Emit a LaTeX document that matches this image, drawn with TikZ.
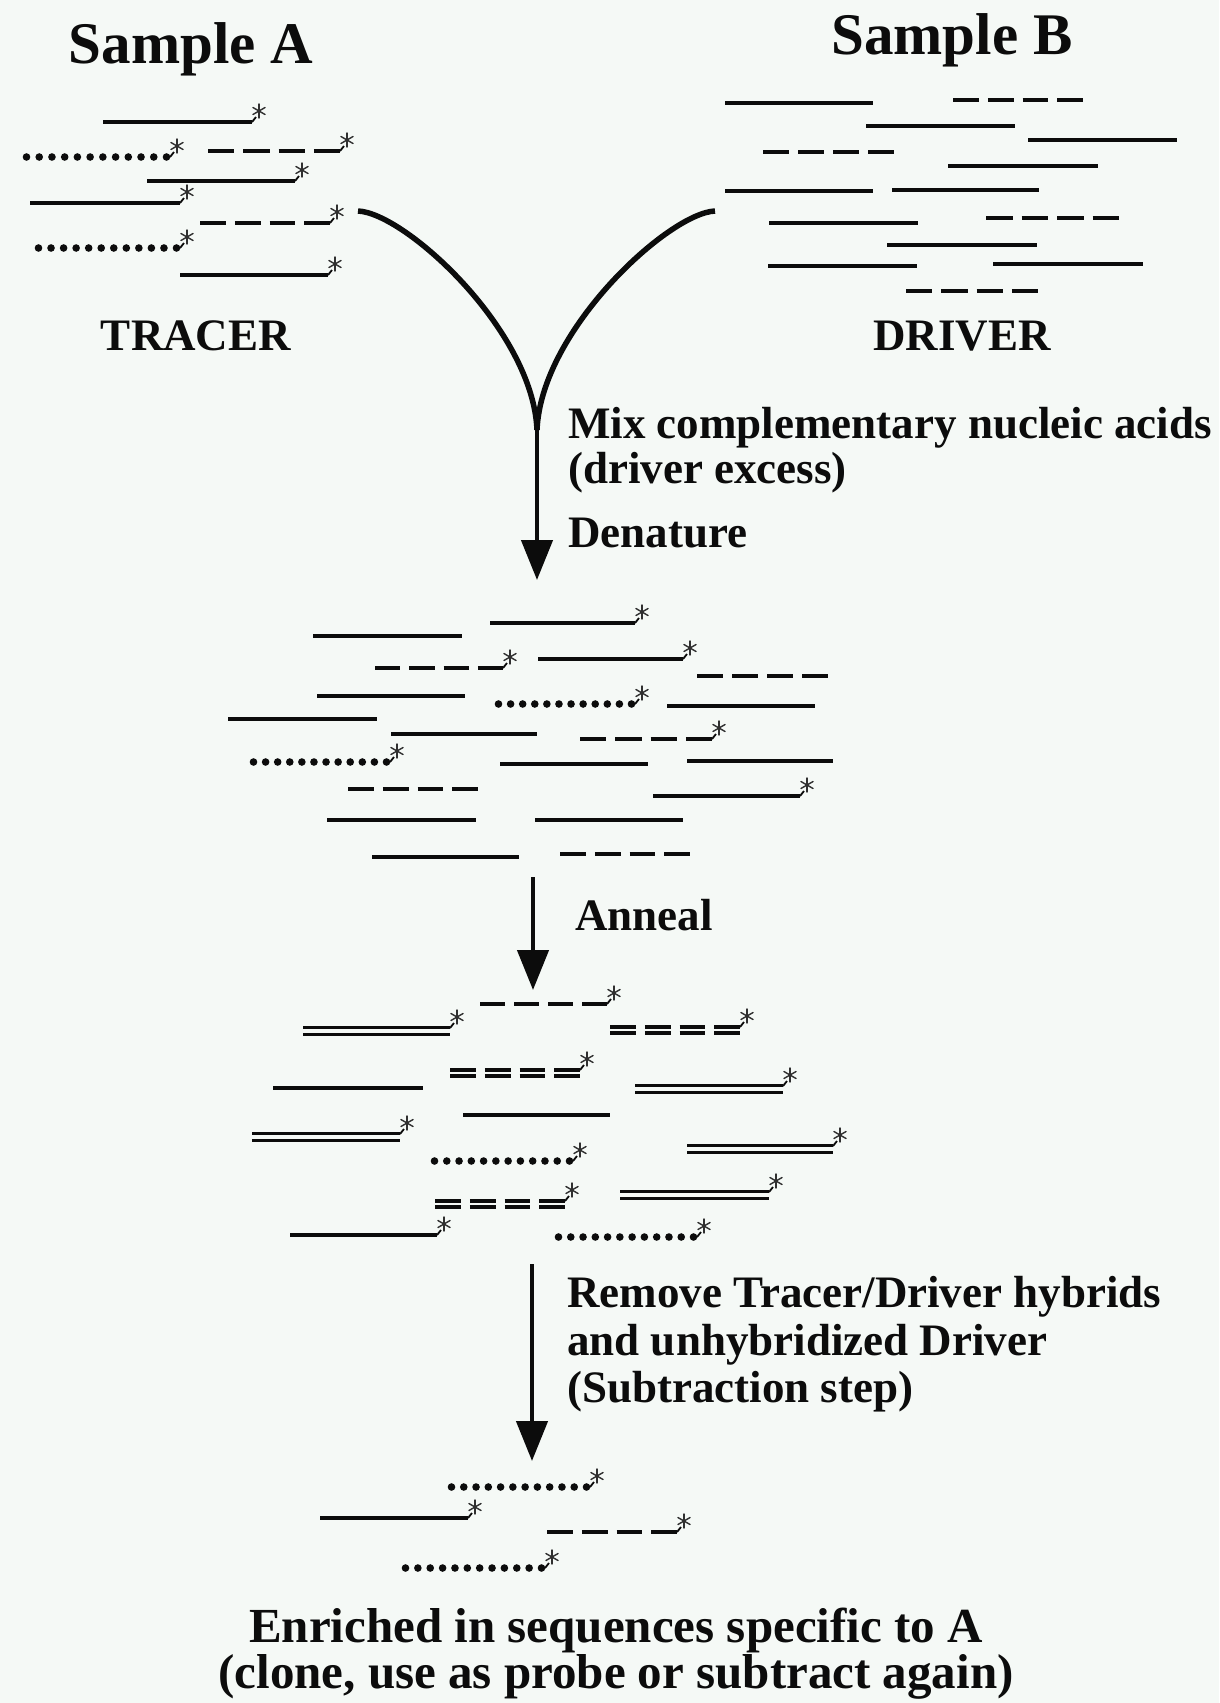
\documentclass[tikz,border=0pt]{standalone}
\usepackage{fontspec}
\setmainfont{Liberation Serif}
\usetikzlibrary{arrows.meta}
\definecolor{bg}{RGB}{245,249,246}
\definecolor{ink}{RGB}{12,12,12}
\tikzset{
  sl/.style={draw=ink,line width=4pt},
  dl/.style={draw=ink,line width=2.7pt},
  ddl/.style={draw=ink,line width=4.5pt},
  flow/.style={draw=ink,line width=5.5pt},
  arr/.style={draw=ink,line width=4.5pt,-{Triangle[length=40pt,width=31pt]}},
  title/.style={inner sep=0pt,anchor=base,font=\fontsize{59}{60}\selectfont\bfseries,text=ink},
  lbl/.style={inner sep=0pt,font=\fontsize{45}{46}\selectfont\bfseries,text=ink},
  big/.style={inner sep=0pt,anchor=base,font=\fontsize{49}{50}\selectfont\bfseries,text=ink}
}
% strands: #1 x start, #2 x end, #3 y
\newcommand\Ssol[3]{\draw[sl] (#1,#3) -- (#2,#3);}
\newcommand\Sdsh[3]{\pgfmathsetmacro\Sdl{(#2-#1-27)/4}%
  \foreach \k in {0,1,2,3}{\draw[sl] ({#1+\k*(\Sdl+9)},#3) -- ++(\Sdl,0);}}
\newcommand\Sdot[3]{\foreach \k in {0,...,11}{\fill[ink] ({#1+3.5+\k*(#2-#1-7)/11},#3) circle (3.8pt);}}
\newcommand\Sdsol[3]{\draw[dl] (#1,#3-3.2) -- (#2,#3-3.2); \draw[dl] (#1,#3+3.2) -- (#2,#3+3.2);}
\newcommand\Sddsh[3]{\pgfmathsetmacro\Sdl{(#2-#1-27)/4}%
  \foreach \k in {0,1,2,3}{\draw[ddl] ({#1+\k*(\Sdl+9)},#3-3) -- ++(\Sdl,0);
    \draw[ddl] ({#1+\k*(\Sdl+9)},#3+3) -- ++(\Sdl,0);}}
% label star at strand end x,y
\newcommand\Sstar[2]{\draw[ink,line width=1.8pt] (#1,#2) -- (#1+4,#2-5);
  \foreach \a in {90,30,-30,-90,-150,150}{\draw[ink!85,line width=1.4pt,line cap=round] (#1+7,#2-11) -- ++(\a:7pt);}}
\begin{document}
\begin{tikzpicture}[x=1pt,y=-1pt]
\fill[bg] (0,0) rectangle (1219,1703);
\useasboundingbox (0,0) rectangle (1219,1703);

% titles
\node[title] (sa) at (191,63) {Sample A};
\node[title] (sb) at (952,54) {Sample B};
\node[lbl,anchor=base] (tracer) at (196,350) {TRACER};
\node[lbl,anchor=base] (driver) at (962,350) {DRIVER};

% tracer strands
\Ssol{103}{252}{122}\Sstar{252}{122}
\Sdot{23}{170}{157}\Sstar{170}{157}
\Sdsh{208}{340}{151}\Sstar{340}{151}
\Ssol{147}{295}{181}\Sstar{295}{181}
\Ssol{30}{180}{203}\Sstar{180}{203}
\Sdsh{200}{330}{223}\Sstar{330}{223}
\Sdot{35}{180}{248}\Sstar{180}{248}
\Ssol{180}{328}{275}\Sstar{328}{275}

% driver strands
\Ssol{725}{873}{103}
\Sdsh{953}{1083}{100}
\Ssol{866}{1015}{126}
\Ssol{1028}{1177}{140}
\Sdsh{763}{894}{152}
\Ssol{948}{1098}{166}
\Ssol{725}{873}{191}
\Ssol{892}{1039}{190}
\Sdsh{986}{1119}{218}
\Ssol{769}{918}{223}
\Ssol{887}{1037}{245}
\Ssol{768}{917}{266}
\Ssol{993}{1143}{264}
\Sdsh{906}{1038}{291}

% mixing arrow
\coordinate (tr) at (358,211);
\coordinate (dr) at (715,211);
\coordinate (mj) at (537,430);
\coordinate (d1) at (537,580);
\draw[flow] (tr) .. controls (405,213) and (533,330) .. (mj);
\draw[flow] (dr) .. controls (669,213) and (541,330) .. (mj);
\draw[arr] (mj) -- (d1);
\node[lbl,anchor=base west] (mix1) at (568,438) {Mix complementary nucleic acids};
\node[lbl,anchor=base west] (mix2) at (568,483) {(driver excess)};
\node[lbl,anchor=base west] (den) at (568,547) {Denature};

% denatured mixture
\Ssol{313}{462}{636}
\Ssol{490}{635}{623}\Sstar{635}{623}
\Sdsh{375}{503}{668}\Sstar{503}{668}
\Ssol{538}{683}{659}\Sstar{683}{659}
\Sdsh{697}{828}{676}
\Ssol{317}{465}{696}
\Sdot{495}{635}{704}\Sstar{635}{704}
\Ssol{667}{815}{706}
\Ssol{228}{377}{719}
\Ssol{391}{537}{734}
\Sdot{250}{390}{762}\Sstar{390}{762}
\Sdsh{580}{712}{739}\Sstar{712}{739}
\Ssol{500}{648}{764}
\Ssol{687}{833}{761}
\Sdsh{348}{478}{789}
\Ssol{653}{800}{796}\Sstar{800}{796}
\Ssol{327}{476}{820}
\Ssol{535}{683}{820}
\Ssol{372}{519}{857}
\Sdsh{560}{690}{854}

% anneal arrow
\coordinate (a0) at (533,877);
\coordinate (a1) at (533,990);
\draw[arr] (a0) -- (a1);
\node[lbl,anchor=base west] (ann) at (575,930) {Anneal};

% annealed mixture
\Sdsh{480}{607}{1004}\Sstar{607}{1004}
\Sdsol{303}{450}{1031}\Sstar{450}{1028}
\Sddsh{610}{740}{1030}\Sstar{740}{1027}
\Sddsh{450}{580}{1073}\Sstar{580}{1070}
\Ssol{273}{423}{1088}
\Sdsol{635}{783}{1089}\Sstar{783}{1086}
\Ssol{463}{610}{1115}
\Sdsol{252}{400}{1137}\Sstar{400}{1134}
\Sdot{431}{573}{1161}\Sstar{573}{1161}
\Sdsol{687}{833}{1149}\Sstar{833}{1146}
\Sddsh{435}{565}{1204}\Sstar{565}{1201}
\Sdsol{620}{769}{1195}\Sstar{769}{1192}
\Ssol{290}{437}{1235}\Sstar{437}{1235}
\Sdot{555}{697}{1237}\Sstar{697}{1237}

% subtraction arrow
\coordinate (s0) at (532,1264);
\coordinate (s1) at (532,1461);
\draw[arr] (s0) -- (s1);
\node[lbl,anchor=base west] (rm1) at (567,1307) {Remove Tracer/Driver hybrids};
\node[lbl,anchor=base west] (rm2) at (567,1355) {and unhybridized Driver};
\node[lbl,anchor=base west] (rm3) at (567,1402) {(Subtraction step)};

% enriched strands
\Sdot{448}{590}{1487}\Sstar{590}{1487}
\Ssol{320}{468}{1518}\Sstar{468}{1518}
\Sdsh{547}{677}{1532}\Sstar{677}{1532}
\Sdot{402}{545}{1568}\Sstar{545}{1568}

\node[big] (en1) at (616,1642) {Enriched in sequences specific to A};
\node[big] (en2) at (616,1688) {(clone, use as probe or subtract again)};
\end{tikzpicture}
\end{document}
